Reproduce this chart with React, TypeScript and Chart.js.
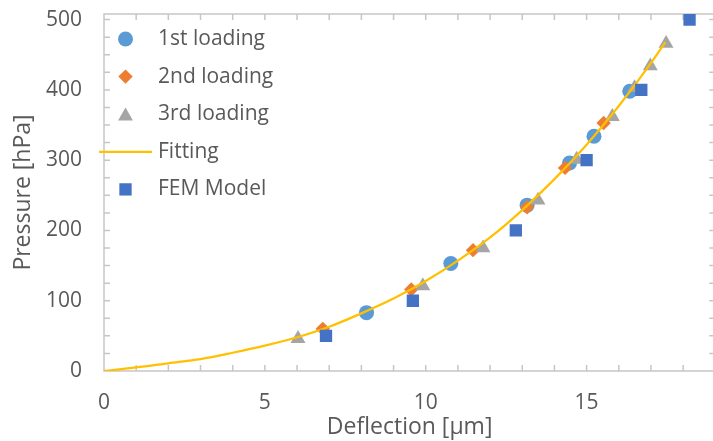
import React, { useEffect, useRef } from 'react';
import { Chart, registerables } from 'chart.js';
import { drawPoint } from 'chart.js/helpers';

Chart.register(...registerables);

// ---- data ----
const firstX = [8.16, 10.78, 13.15, 14.47, 15.23, 16.34];
const firstY = [83, 153, 236, 296, 334, 398];

const secondX = [6.8, 9.55, 11.47, 13.15, 14.33, 15.53];
const secondY = [60, 116, 172, 233, 289, 353];

const thirdX = [6.03, 9.91, 11.78, 13.49, 14.69, 15.8, 16.49, 16.98, 17.47];
const thirdY = [46, 121, 175, 243, 301, 362, 403, 434, 466];

const fitX = [0, 1, 2, 3, 4, 5, 6, 7, 8, 9, 10, 11, 12, 13, 14, 15, 16, 17, 17.45];
const fitY = [0, 5, 11, 17, 26, 36, 48, 63, 82, 103, 128, 157, 190, 229, 273, 322, 377, 438, 468];

const femX = [6.9, 9.6, 12.8, 15, 16.7, 18.2];
const femY = [50, 100, 200, 300, 400, 500];

const labels = ['1st loading', '2nd loading', '3rd loading', 'Fitting', 'FEM Model'];

const xTickLabels = [0, 5, 10, 15];
const yTickLabels = [0, 100, 200, 300, 400, 500];
const xMinorTicks = Array.from({ length: 20 }, (_, i) => i);
const yMinorTicks = Array.from({ length: 21 }, (_, i) => i * 25);

const X_MIN = 0;
const X_MAX = 19;
const Y_MIN = 0;
const Y_MAX = 508;

const TEXT = '#595959';
const AXIS = '#c6c6c6';
const FONT = '"Open Sans", sans-serif';

const pts = (xs: number[], ys: number[]) => xs.map((x, i) => ({ x, y: ys[i] }));

const framePlugin = {
  id: 'frame',
  beforeDatasetsDraw(chart: any) {
    const { ctx, chartArea: a, scales } = chart;
    const x = scales.x;
    const y = scales.y;
    const tl = 6;
    ctx.save();
    ctx.strokeStyle = AXIS;
    ctx.lineWidth = 1.5;
    ctx.beginPath();
    ctx.rect(a.left, a.top, a.right - a.left, a.bottom - a.top);
    for (const v of xMinorTicks) {
      const px = x.getPixelForValue(v);
      ctx.moveTo(px, a.bottom);
      ctx.lineTo(px, a.bottom - tl);
      ctx.moveTo(px, a.top);
      ctx.lineTo(px, a.top + tl);
    }
    for (const v of yMinorTicks) {
      const py = y.getPixelForValue(v);
      ctx.moveTo(a.left, py);
      ctx.lineTo(a.left + tl, py);
      ctx.moveTo(a.right, py);
      ctx.lineTo(a.right - tl, py);
    }
    ctx.stroke();
    ctx.restore();
  },
};

const legendPlugin = {
  id: 'insideLegend',
  afterDraw(chart: any) {
    const { ctx, chartArea: a } = chart;
    const markerX = a.left + 21.5;
    const textX = a.left + 54;
    const rowTop = a.top + 25;
    const rowGap = 37.6;
    ctx.save();
    ctx.font = `21px ${FONT}`;
    ctx.textBaseline = 'middle';
    ctx.textAlign = 'left';
    chart.data.datasets.forEach((ds: any, i: number) => {
      const yy = rowTop + i * rowGap;
      if (ds.showLine) {
        ctx.strokeStyle = ds.borderColor;
        ctx.lineWidth = ds.borderWidth;
        ctx.beginPath();
        ctx.moveTo(a.left - 5, yy);
        ctx.lineTo(a.left + 48, yy);
        ctx.stroke();
      } else {
        ctx.fillStyle = ds.backgroundColor;
        drawPoint(ctx, { pointStyle: ds.pointStyle, radius: ds.pointRadius, rotation: 0, borderWidth: 0 } as any, markerX, ds.pointStyle === 'triangle' ? yy + 2 : yy);
      }
      ctx.fillStyle = TEXT;
      ctx.fillText(ds.label, textX, yy);
    });
    ctx.restore();
  },
};

export default function App() {
  const ref = useRef<HTMLCanvasElement | null>(null);

  useEffect(() => {
    if (!ref.current) return;
    const chart = new Chart(ref.current, {
      type: 'scatter',
      data: {
        datasets: [
          {
            label: labels[0],
            data: pts(firstX, firstY),
            pointStyle: 'circle',
            pointRadius: 7.5,
            backgroundColor: '#5b9bd5',
            borderWidth: 0,
            order: 5,
          },
          {
            label: labels[1],
            data: pts(secondX, secondY),
            pointStyle: 'rectRot',
            pointRadius: 7.2,
            backgroundColor: '#ed7d31',
            borderWidth: 0,
            order: 4,
          },
          {
            label: labels[2],
            data: pts(thirdX, thirdY),
            pointStyle: 'triangle',
            pointRadius: 8.6,
            backgroundColor: '#a5a5a5',
            borderWidth: 0,
            order: 3,
          },
          {
            type: 'line',
            label: labels[3],
            data: pts(fitX, fitY),
            showLine: true,
            borderColor: '#ffc000',
            borderWidth: 2.25,
            pointRadius: 0,
            cubicInterpolationMode: 'monotone',
            fill: false,
            order: 2,
          },
          {
            label: labels[4],
            data: pts(femX, femY),
            pointStyle: 'rect',
            pointRadius: 8.7,
            backgroundColor: '#4472c4',
            borderWidth: 0,
            order: 1,
          },
        ] as any,
      },
      options: {
        animation: false,
        responsive: false,
        devicePixelRatio: 1,
        layout: { padding: { top: 14, right: 4, left: 0, bottom: 0 } },
        plugins: {
          legend: { display: false },
          tooltip: { enabled: false },
        },
        scales: {
          x: {
            type: 'linear',
            min: X_MIN,
            max: X_MAX,
            afterBuildTicks: (s: any) => {
              s.ticks = xTickLabels.map((v) => ({ value: v }));
            },
            afterFit: (s: any) => {
              s.height = 70;
              s.paddingLeft = 0;
              s.paddingRight = 0;
              s.paddingTop = 0;
              s.paddingBottom = 0;
            },
            grid: { display: false, drawTicks: false },
            border: { display: false },
            ticks: {
              font: { family: FONT, size: 21 },
              color: TEXT,
              padding: 19,
              maxRotation: 0,
            },
            title: {
              display: true,
              text: 'Deflection [µm]',
              font: { family: FONT, size: 23 },
              color: TEXT,
              padding: { top: 0, bottom: 0 },
            },
          },
          y: {
            type: 'linear',
            min: Y_MIN,
            max: Y_MAX,
            afterBuildTicks: (s: any) => {
              s.ticks = yTickLabels.map((v) => ({ value: v }));
            },
            afterFit: (s: any) => {
              s.width = 104;
              s.paddingLeft = 0;
              s.paddingRight = 0;
              s.paddingTop = 0;
              s.paddingBottom = 0;
            },
            grid: { display: false, drawTicks: false },
            border: { display: false },
            ticks: {
              font: { family: FONT, size: 21 },
              color: TEXT,
              padding: 22,
            },
            title: {
              display: true,
              text: 'Pressure [hPa]',
              font: { family: FONT, size: 23 },
              color: TEXT,
              padding: { top: 10, bottom: 0 },
            },
          },
        },
      } as any,
      plugins: [framePlugin, legendPlugin],
    });
    return () => chart.destroy();
  }, []);

  return (
    <div
      style={{
        position: 'fixed',
        left: 0,
        top: 0,
        width: 713,
        height: 441,
        overflow: 'hidden',
        background: '#fff',
      }}
    >
      <canvas ref={ref} width={724} height={441} style={{ width: 724, height: 441, display: 'block' }} />
    </div>
  );
}
